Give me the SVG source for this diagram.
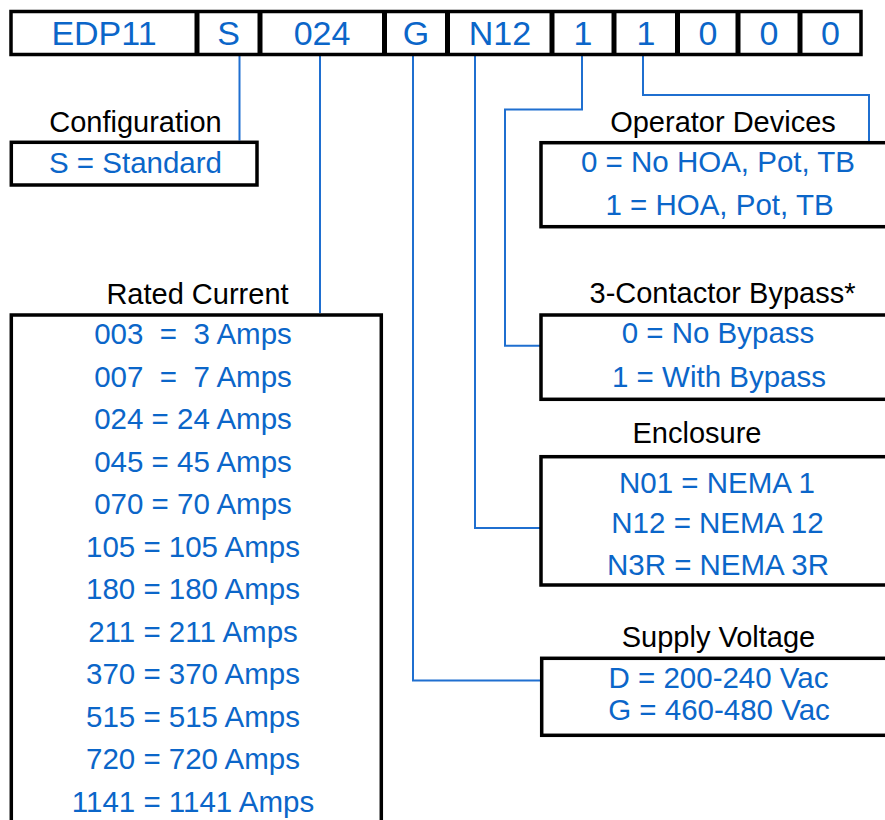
<svg xmlns="http://www.w3.org/2000/svg" width="885" height="820" viewBox="0 0 885 820">
<style>
  text { font-family: "Liberation Sans", Arial, sans-serif; }
  .code { font-size: 34px; fill: #0b66c9; text-anchor: middle; }
  .title { font-size: 29px; fill: #000; text-anchor: middle; }
  .item { font-size: 29.5px; fill: #0b66c9; text-anchor: middle; white-space: pre; }
  .box { fill: #fff; stroke: #000; stroke-width: 3.5; }
  .div { stroke: #000; stroke-width: 5; }
  .conn { fill: none; stroke: #1f6fd0; stroke-width: 2; }
</style>
<rect width="885" height="820" fill="#fff"/>

<g id="connectors">
  <path class="conn" d="M239.5 56 V140.5"/>
  <path class="conn" d="M320 56 V313"/>
  <path class="conn" d="M413 56 V680.5 H540"/>
  <path class="conn" d="M475 56 V528 H540"/>
  <path class="conn" d="M582 56 V109.5 H505 V345.7 H540"/>
  <path class="conn" d="M643 56 V95 H869 V141"/>
</g>

<g id="model-code">
  <rect class="box" x="11" y="11.5" width="850" height="43" stroke-width="4"/>
  <line class="div" x1="197" y1="11" x2="197" y2="55"/>
  <line class="div" x1="260" y1="11" x2="260" y2="55"/>
  <line class="div" x1="384.5" y1="11" x2="384.5" y2="55"/>
  <line class="div" x1="447.5" y1="11" x2="447.5" y2="55"/>
  <line class="div" x1="552" y1="11" x2="552" y2="55"/>
  <line class="div" x1="614" y1="11" x2="614" y2="55"/>
  <line class="div" x1="677.5" y1="11" x2="677.5" y2="55"/>
  <line class="div" x1="738" y1="11" x2="738" y2="55"/>
  <line class="div" x1="800" y1="11" x2="800" y2="55"/>
  <text class="code" x="104" y="45">EDP11</text>
  <text class="code" x="228.5" y="45">S</text>
  <text class="code" x="322" y="45">024</text>
  <text class="code" x="416" y="45">G</text>
  <text class="code" x="500" y="45">N12</text>
  <text class="code" x="583" y="45">1</text>
  <text class="code" x="646" y="45">1</text>
  <text class="code" x="708" y="45">0</text>
  <text class="code" x="769" y="45">0</text>
  <text class="code" x="830.5" y="45">0</text>
</g>

<g id="configuration">
  <text class="title" x="135.5" y="132">Configuration</text>
  <rect class="box" x="11.3" y="142.3" width="245.7" height="42.7"/>
  <text class="item" x="135.5" y="173">S = Standard</text>
</g>

<g id="rated-current">
  <text class="title" x="197.5" y="304">Rated Current</text>
  <rect class="box" x="11.3" y="315" width="370" height="530"/>
  <text class="item" x="193" y="344" xml:space="preserve">003  =  3 Amps</text>
  <text class="item" x="193" y="386.5" xml:space="preserve">007  =  7 Amps</text>
  <text class="item" x="193" y="429">024 = 24 Amps</text>
  <text class="item" x="193" y="471.5">045 = 45 Amps</text>
  <text class="item" x="193" y="514">070 = 70 Amps</text>
  <text class="item" x="193" y="556.5">105 = 105 Amps</text>
  <text class="item" x="193" y="599">180 = 180 Amps</text>
  <text class="item" x="193" y="641.5">211 = 211 Amps</text>
  <text class="item" x="193" y="684">370 = 370 Amps</text>
  <text class="item" x="193" y="726.5">515 = 515 Amps</text>
  <text class="item" x="193" y="769">720 = 720 Amps</text>
  <text class="item" x="193" y="811.5">1141 = 1141 Amps</text>
</g>

<g id="operator-devices">
  <text class="title" x="723" y="132">Operator Devices</text>
  <rect class="box" x="541" y="142.7" width="360" height="84"/>
  <text class="item" x="718" y="172">0 = No HOA, Pot, TB</text>
  <text class="item" x="719.5" y="215">1 = HOA, Pot, TB</text>
</g>

<g id="bypass">
  <text class="title" x="722.5" y="303">3-Contactor Bypass*</text>
  <rect class="box" x="541" y="315" width="360" height="84.3"/>
  <text class="item" x="718" y="343">0 = No Bypass</text>
  <text class="item" x="719" y="387">1 = With Bypass</text>
</g>

<g id="enclosure">
  <text class="title" x="697" y="443">Enclosure</text>
  <rect class="box" x="541" y="456.7" width="360" height="128.3"/>
  <text class="item" x="717" y="493">N01 = NEMA 1</text>
  <text class="item" x="717.5" y="533">N12 = NEMA 12</text>
  <text class="item" x="718" y="575">N3R = NEMA 3R</text>
</g>

<g id="supply-voltage">
  <text class="title" x="718.5" y="647">Supply Voltage</text>
  <rect class="box" x="541.7" y="658.3" width="360" height="77"/>
  <text class="item" x="718.5" y="688">D = 200-240 Vac</text>
  <text class="item" x="719" y="720">G = 460-480 Vac</text>
</g>
</svg>
